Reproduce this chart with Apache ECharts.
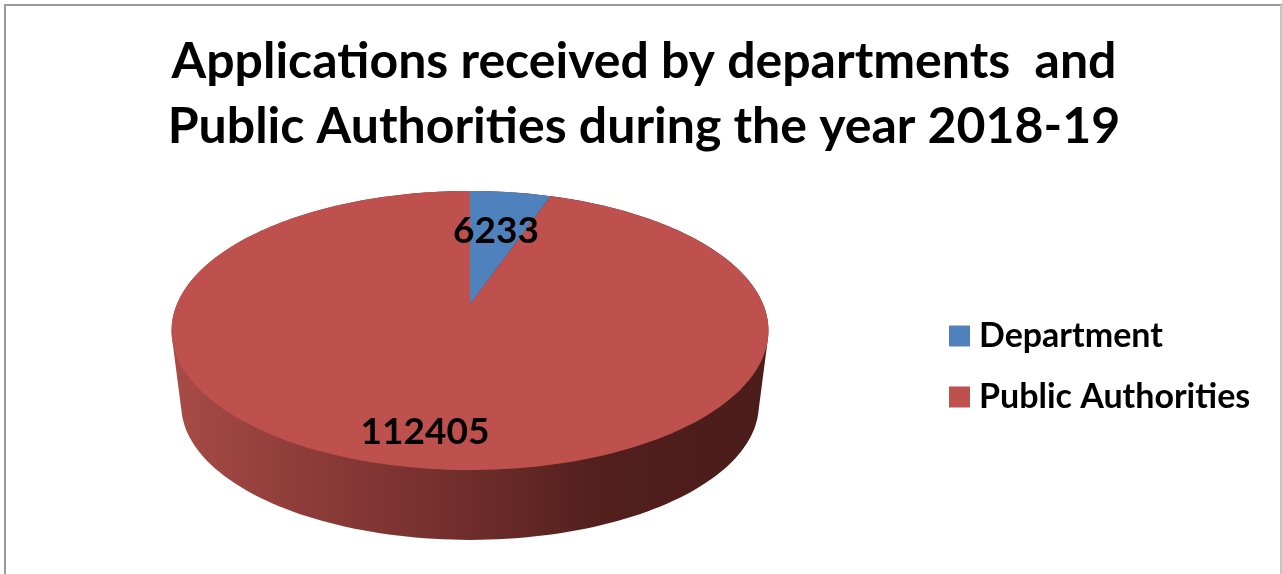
<!DOCTYPE html>
<html>
<head>
<meta charset="utf-8">
<style>html,body{margin:0;padding:0;background:#fff}#c{width:1282px;height:574px}</style>
<script src="https://cdn.jsdelivr.net/npm/echarts@6/dist/echarts.min.js"></script>
</head>
<body>
<div id="c"></div>
<script>
const categories = ['Department', 'Public Authorities'];
const values = [6233, 112405];
const colors = ['#4F81BD', '#BE504D'];
const titleText = 'Applications received by departments  and\nPublic Authorities during the year 2018-19';
const FONT = 'Lato';

const total = values.reduce((a, b) => a + b, 0);
// Perspective view of the disc: far edge shrinks by k.
const view = { cx: 470, apexY: 304, ax: 293, by: 134.5, k: 0.19 };
const base = { cx: 470, apexY: 379.4, ax: 283.5, by: 130, k: 0.19 };
function project(v, deg) {
  const t = deg * Math.PI / 180, X = Math.sin(t), Y = Math.cos(t), w = 1 + v.k * Y;
  return [v.cx + v.ax * X / w, v.apexY - v.by * Y / w];
}
function arc(v, from, to) {
  const pts = [], n = Math.max(2, Math.ceil(Math.abs(to - from) / 1.5));
  for (let i = 0; i <= n; i++) pts.push(project(v, from + (to - from) * i / n));
  return pts;
}
function hull(points) {
  const p = points.slice().sort((a, b) => a[0] - b[0] || a[1] - b[1]);
  const cross = (o, a, b) => (a[0] - o[0]) * (b[1] - o[1]) - (a[1] - o[1]) * (b[0] - o[0]);
  const side = list => {
    const out = [];
    for (const q of list) {
      while (out.length > 1 && cross(out[out.length - 2], out[out.length - 1], q) <= 0) out.pop();
      out.push(q);
    }
    out.pop();
    return out;
  };
  return side(p).concat(side(p.slice().reverse()));
}
const label = (text, x, y) => ({
  type: 'text', z2: 20,
  style: { text, x, y, align: 'center', verticalAlign: 'middle', fill: '#000', font: 'bold 37px ' + FONT }
});
function sliceSeries(i, z, withSide, labelPos) {
  const start = values.slice(0, i).reduce((a, b) => a + b, 0);
  return {
    type: 'custom', name: categories[i], coordinateSystem: 'none', z,
    silent: true,
    itemStyle: { color: colors[i] },
    data: [{ name: categories[i], value: [values[i]] }],
    renderItem(params, api) {
      const a0 = start / total * 360, a1 = a0 + api.value(0) / total * 360;
      const children = [];
      if (withSide) {
        children.push({
          type: 'polygon',
          shape: { points: hull(arc(view, 0, 360).concat(arc(base, 0, 360))) },
          style: { fill: new echarts.graphic.LinearGradient(0, 0, 1, 0, [
            { offset: 0, color: '#A84B47' },
            { offset: 0.22, color: '#8E3C39' },
            { offset: 0.5, color: '#6F2D2B' },
            { offset: 0.72, color: '#521F1D' },
            { offset: 1, color: '#4A1C1A' }
          ]) }
        });
      }
      children.push({
        type: 'polygon',
        shape: { points: [[view.cx, view.apexY]].concat(arc(view, a0, a1)) },
        style: { fill: colors[i] }
      });
      children.push(label(String(api.value(0)), labelPos[0], labelPos[1]));
      return { type: 'group', children };
    }
  };
}
const chart = echarts.init(document.getElementById('c'), null, { renderer: 'canvas' });
chart.setOption({
  animation: false,
  backgroundColor: '#fff',
  color: colors,
  title: {
    text: titleText, left: 639, top: 24, textAlign: 'center',
    textStyle: { fontFamily: FONT, fontWeight: 'bold', fontSize: 50, lineHeight: 65, color: '#000' }
  },
  legend: {
    orient: 'vertical', left: 944, top: 314, itemWidth: 21, itemHeight: 21, itemGap: 27,
    icon: 'rect', selectedMode: false, data: categories,
    textStyle: { fontFamily: FONT, fontWeight: 'bold', fontSize: 34, color: '#000', padding: [0, 0, 0, 4] }
  },
  graphic: [
    { type: 'line', shape: { x1: 5, y1: 5, x2: 1282, y2: 5 }, style: { stroke: '#9a9a9a', lineWidth: 2 } },
    { type: 'line', shape: { x1: 5, y1: 4, x2: 5, y2: 574 }, style: { stroke: '#9a9a9a', lineWidth: 2 } },
    { type: 'line', shape: { x1: 1281, y1: 5, x2: 1281, y2: 574 }, style: { stroke: '#c4c4c4', lineWidth: 2 } }
  ],
  series: [
    sliceSeries(1, 2, true, [425, 432]),
    sliceSeries(0, 3, false, [496, 231])
  ]
});
</script>
</body>
</html>
